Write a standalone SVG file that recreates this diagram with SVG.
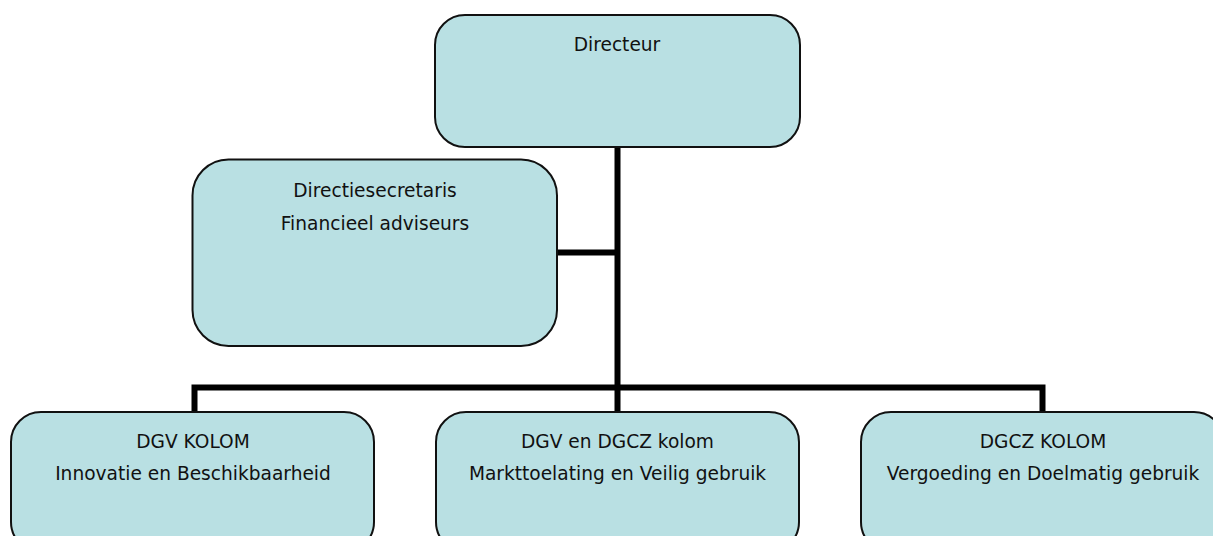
<svg xmlns="http://www.w3.org/2000/svg" width="1213" height="536" viewBox="0 0 1213 536">
  <style>
    .box { fill: #b9e0e3; stroke: #111; stroke-width: 2; }
    .lbl { font-family: "DejaVu Sans", Verdana, sans-serif; font-size: 18.6px; fill: #111; text-anchor: middle; }
    .wire { fill: none; stroke: #000; stroke-width: 6; stroke-linecap: butt; stroke-linejoin: miter; }
  </style>
  <rect width="1213" height="536" fill="#fff"/>

  <g id="connectors">
    <!-- trunk from the director down to the bottom bar -->
    <line class="wire" x1="617.5" y1="147" x2="617.5" y2="412"/>
    <!-- staff branch -->
    <line class="wire" x1="557" y1="252.5" x2="617.5" y2="252.5" stroke-width="5.5"/>
    <!-- bottom distribution bar with drops to the three columns -->
    <path class="wire" d="M194.5 412 V387.5 H1042.5 V412"/>
  </g>

  <g id="directeur">
    <rect class="box" x="435" y="15" width="365" height="132" rx="30" ry="30"/>
    <text class="lbl" x="617" y="51">Directeur</text>
  </g>

  <g id="staf">
    <rect class="box" x="192.5" y="159.5" width="364.5" height="186.5" rx="36" ry="36"/>
    <text class="lbl" x="375" y="197">Directiesecretaris</text>
    <text class="lbl" x="375" y="230">Financieel adviseurs</text>
  </g>

  <g id="dgv">
    <rect class="box" x="11" y="412" width="363" height="140" rx="30" ry="30"/>
    <text class="lbl" x="193" y="448">DGV KOLOM</text>
    <text class="lbl" x="193" y="480">Innovatie en Beschikbaarheid</text>
  </g>

  <g id="dgv-dgcz">
    <rect class="box" x="436" y="412" width="363" height="140" rx="30" ry="30"/>
    <text class="lbl" x="617.5" y="448">DGV en DGCZ kolom</text>
    <text class="lbl" x="617.5" y="480">Markttoelating en Veilig gebruik</text>
  </g>

  <g id="dgcz">
    <rect class="box" x="861" y="412" width="363" height="140" rx="30" ry="30"/>
    <text class="lbl" x="1043" y="448">DGCZ KOLOM</text>
    <text class="lbl" x="1043" y="480">Vergoeding en Doelmatig gebruik</text>
  </g>
</svg>
